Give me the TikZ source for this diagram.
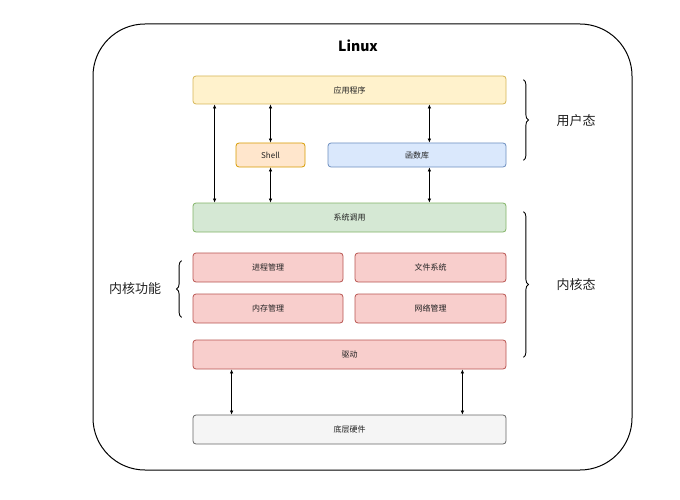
\documentclass[tikz,border=0pt]{standalone}
\usepackage{fontspec}
\setmainfont{Noto Sans CJK SC}
\usetikzlibrary{arrows.meta,decorations.pathreplacing,calc}
\definecolor{yfill}{HTML}{FFF2CC}\definecolor{ydraw}{HTML}{D6B656}
\definecolor{ofill}{HTML}{FFE6CC}\definecolor{odraw}{HTML}{D79B00}
\definecolor{bfill}{HTML}{DAE8FC}\definecolor{bdraw}{HTML}{6C8EBF}
\definecolor{gfill}{HTML}{D5E8D4}\definecolor{gdraw}{HTML}{82B366}
\definecolor{rfill}{HTML}{F8CECC}\definecolor{rdraw}{HTML}{B85450}
\definecolor{hfill}{HTML}{F5F5F5}\definecolor{hdraw}{HTML}{666666}
\definecolor{txt}{HTML}{222222}
\tikzset{
  box/.style={draw, rounded corners=3pt, line width=0.8pt, inner sep=0pt, text=txt, font=\fontsize{8}{9}\selectfont},
  ybox/.style={box, fill=yfill, draw=ydraw},
  obox/.style={box, fill=ofill, draw=odraw},
  bbox/.style={box, fill=bfill, draw=bdraw},
  gbox/.style={box, fill=gfill, draw=gdraw},
  rbox/.style={box, fill=rfill, draw=rdraw},
  hbox/.style={box, fill=hfill, draw=hdraw},
  arr/.style={{Latex[length=4pt,width=3.5pt]}-{Latex[length=4pt,width=3.5pt]}, line width=0.6pt},
  brc/.style={decorate, decoration={brace, amplitude=5pt}, line width=0.9pt},
  lab/.style={text=txt, font=\fontsize{13}{15}\selectfont}
}
\newcommand{\bx}[7]{\node[#1, minimum width=#4pt-#2pt, minimum height=#5pt-#3pt] (#6) at ({(#2+#4)/2},{(#3+#5)/2}) {#7};}
\begin{document}
\begin{tikzpicture}[x=1pt,y=-1pt]
\useasboundingbox (0,0) rectangle (680,500);
\node[draw, line width=1pt, rounded corners=52pt, minimum width=539pt, minimum height=446pt] (outer) at (362.5,247) {};
\node[font=\bfseries\fontsize{14}{16}\selectfont] (title) at (358,46) {Linux};
\bx{ybox}{193}{76}{506}{104}{app}{应用程序}
\bx{obox}{236}{143}{305}{167}{shell}{Shell}
\bx{bbox}{328}{143}{506}{167}{lib}{函数库}
\bx{gbox}{193}{203}{506}{232}{sys}{系统调用}
\bx{rbox}{193}{253}{343}{282}{proc}{进程管理}
\bx{rbox}{355}{253}{506}{282}{fs}{文件系统}
\bx{rbox}{193}{294}{343}{323}{mem}{内存管理}
\bx{rbox}{355}{294}{506}{323}{net}{网络管理}
\bx{rbox}{193}{340}{506}{369}{drv}{驱动}
\bx{hbox}{193}{415}{506}{444}{hw}{底层硬件}
% arrow anchor points
\coordinate (xa) at ([xshift=22pt]app.south west);
\coordinate (xs) at (app.south -| shell.north);
\coordinate (xl) at ([xshift=-77pt]app.south east);
\coordinate (xd) at ([xshift=39pt]drv.south west);
\coordinate (xe) at ([xshift=-44pt]drv.south east);
\draw[arr] (xa) -- (xa |- sys.north);
\draw[arr] (xs) -- (shell.north);
\draw[arr] (shell.south) -- (sys.north -| shell.south);
\draw[arr] (xl) -- (xl |- lib.north);
\draw[arr] (xl |- lib.south) -- (xl |- sys.north);
\draw[arr] (xd) -- (xd |- hw.north);
\draw[arr] (xe) -- (xe |- hw.north);
% braces
\coordinate (b1t) at ($(app.north east)+(17,4)$);
\coordinate (b1b) at ($(lib.south east)+(17,-7)$);
\draw[brc] (b1t) -- (b1b);
\node[lab] (user) at (576,121) {用户态};
\coordinate (b2t) at ($(sys.north east)+(17,9)$);
\coordinate (b2b) at ($(drv.south east)+(17,-12)$);
\draw[brc] (b2t) -- (b2b);
\node[lab] (kern) at (576,285) {内核态};
\coordinate (b3t) at ($(proc.north west)+(-11,8)$);
\coordinate (b3b) at ($(mem.south west)+(-11,-6)$);
\draw[brc] (b3b) -- (b3t);
\node[lab] (func) at (135,289) {内核功能};
\end{tikzpicture}
\end{document}
